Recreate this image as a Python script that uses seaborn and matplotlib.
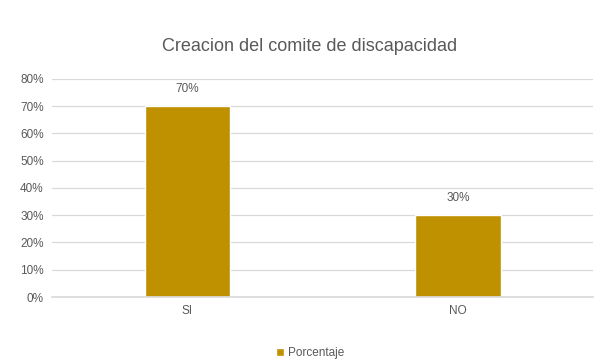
import matplotlib
matplotlib.use("Agg")
import matplotlib.pyplot as plt
import seaborn as sns
import pandas as pd
from matplotlib.ticker import PercentFormatter
from matplotlib.patches import Patch

categories = ["SI", "NO"]
values = [0.70, 0.30]
value_labels = ["70%", "30%"]
series_name = "Porcentaje"
title = "Creacion del comite de discapacidad"

df = pd.DataFrame({"cat": categories, "val": values})

sns.set_theme(style="white")
plt.rcParams["font.family"] = ["Liberation Sans Narrow", "Liberation Sans", "DejaVu Sans"]

bar_color = "#BF9000"
text_color = "#595959"

fig = plt.figure(figsize=(5.98, 3.6), dpi=100)
ax = fig.add_axes([0.087, 0.175, 0.905, 0.606])

sns.barplot(data=df, x="cat", y="val", color=bar_color, width=0.315, ax=ax, saturation=1)

ax.set_ylim(0, 0.8)
ax.set_yticks([i / 10 for i in range(9)])
ax.yaxis.set_major_formatter(PercentFormatter(1.0, decimals=0))
ax.yaxis.grid(True, color="#D9D9D9", linewidth=0.9)
ax.set_axisbelow(True)
for s in ["top", "right", "left"]:
    ax.spines[s].set_visible(False)
ax.spines["bottom"].set_color("#D9D9D9")
ax.tick_params(axis="both", colors=text_color, labelsize=8.5, length=0, pad=6)
ax.set_xlabel("")
ax.set_ylabel("")

for i, (v, lab) in enumerate(zip(values, value_labels)):
    ax.annotate(lab, (i, v), xytext=(0, 8), textcoords="offset points",
                ha="center", va="bottom", fontsize=8.5, color=text_color)

fig.text(0.518, 0.872, title, ha="center", va="center", fontsize=13, color=text_color)

handles = [Patch(facecolor=bar_color, label=series_name)]
fig.legend(handles=handles, loc="center", bbox_to_anchor=(0.518, 0.02), frameon=False,
           fontsize=8.5, labelcolor=text_color, handlelength=0.7, handleheight=0.7,
           handletextpad=0.3)

fig.savefig("out.png", dpi=100)
